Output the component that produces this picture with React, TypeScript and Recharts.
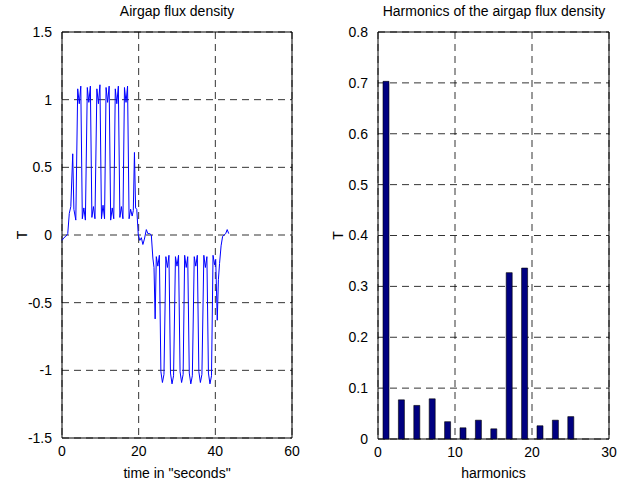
import { LineChart, Line, BarChart, Bar, XAxis, YAxis, CartesianGrid, ReferenceArea } from 'recharts';

const timeSeconds = [
  0, 0.5, 1.0, 1.5, 1.9, 2.3, 2.8, 3.1, 3.6,
  4.1, 4.5, 4.9, 5.3, 5.7, 6.1,
  6.6, 7.0, 7.4, 7.8, 8.2, 8.6,
  9.1, 9.5, 9.9, 10.3, 10.7, 11.1,
  11.5, 11.9, 12.3, 12.7, 13.1, 13.5,
  13.9, 14.3, 14.7, 15.1, 15.5, 15.9,
  16.3, 16.7, 17.1, 17.5, 17.9, 18.3,
  18.6, 18.9, 19.2, 19.5, 19.9, 20.3, 20.7, 21.1, 21.5, 22.0, 22.4, 22.9, 23.3,
  23.7, 24.0, 24.3,
  24.6, 25.0, 25.4, 25.8, 26.2, 26.6,
  27.1, 27.5, 27.9, 28.3, 28.7, 29.1,
  29.6, 30.0, 30.4, 30.8, 31.2, 31.6,
  32.0, 32.4, 32.8, 33.2, 33.6, 34.0,
  34.5, 34.9, 35.3, 35.7, 36.1, 36.5,
  37.0, 37.4, 37.8, 38.2, 38.6, 39.0,
  39.4, 39.8, 40.1, 40.5, 40.8, 41.1, 41.5, 41.9, 42.3, 42.7, 43.1, 43.5,
];

const fluxDensity = [
  -0.04, -0.02, -0.01, 0.01, 0.16, 0.21, 0.6, 0.19, 0.11,
  1.08, 0.97, 1.1, 0.12, 0.2, 0.11,
  1.09, 0.98, 1.1, 0.13, 0.21, 0.12,
  1.08, 0.97, 1.11, 0.12, 0.22, 0.12,
  1.09, 0.98, 1.1, 0.11, 0.2, 0.12,
  1.08, 0.97, 1.1, 0.13, 0.21, 0.12,
  1.09, 0.98, 1.1, 0.12, 0.19, 0.14,
  0.18, 0.61, 0.2, 0.19, 0.0, -0.04, -0.02, -0.07, -0.03, 0.04, 0.01, 0.01, 0.0,
  -0.17, -0.24, -0.62,
  -0.16, -0.23, -0.15, -1.01, -1.09, -1.03,
  -0.16, -0.24, -0.15, -1.02, -1.1, -1.04,
  -0.16, -0.23, -0.15, -1.01, -1.09, -1.03,
  -0.15, -0.24, -0.16, -1.02, -1.1, -1.04,
  -0.16, -0.23, -0.15, -1.01, -1.09, -1.03,
  -0.15, -0.24, -0.16, -1.02, -1.1, -1.04,
  -0.15, -0.22, -0.18, -0.63, -0.33, -0.21, -0.08, -0.01, 0.0, 0.01, 0.04, 0.01,
];

const harmonicOrder = [1, 3, 5, 7, 9, 11, 13, 15, 17, 19, 21, 23, 25];
const harmonicAmplitude = [0.703, 0.077, 0.066, 0.079, 0.034, 0.022, 0.037, 0.02, 0.327, 0.336, 0.026, 0.037, 0.044];

const timeTicks = [0, 20, 40, 60];
const fluxTicks = [-1.5, -1, -0.5, 0, 0.5, 1, 1.5];
const harmonicTicks = [0, 10, 20, 30];
const amplitudeTicks = [0, 0.1, 0.2, 0.3, 0.4, 0.5, 0.6, 0.7, 0.8];

const fluxData = timeSeconds.map((t, i) => ({ t, b: fluxDensity[i] }));
const harmonicData = harmonicOrder.map((h, i) => ({ h, amp: harmonicAmplitude[i] }));

const font = '"Liberation Sans", Arial, Helvetica, sans-serif';
const tickStyle = { fill: '#000', fontSize: 14, fontFamily: font };
const labelStyle = { fill: '#000', fontSize: 14, fontFamily: font, textAnchor: 'middle' as const };

function Title({ text, center }: { text: string; center: number }) {
  return (
    <div
      style={{
        position: 'absolute',
        top: 3,
        left: center - 150,
        width: 300,
        textAlign: 'center',
        fontFamily: font,
        fontSize: 14,
        lineHeight: '17px',
        color: '#000',
      }}
    >
      {text}
    </div>
  );
}

export default function App() {
  return (
    <div style={{ position: 'absolute', left: 0, top: 0, width: 622, height: 485, background: '#fff' }}>
      <Title text="Airgap flux density" center={177} />
      <Title text="Harmonics of the airgap flux density" center={494} />

      <div style={{ position: 'absolute', left: 0, top: 0 }}>
        <LineChart width={310} height={485} data={fluxData} margin={{ top: 32, right: 18, bottom: 0, left: 0 }}>
          <CartesianGrid strokeDasharray="7 5" stroke="#000" strokeOpacity={0.8} />
          <XAxis
            dataKey="t"
            type="number"
            domain={[0, 60]}
            ticks={timeTicks}
            height={47}
            axisLine={false}
            tickLine={false}
            tickMargin={2}
            tick={tickStyle}
            label={{ value: 'time in "seconds"', position: 'insideBottom', offset: 7, style: labelStyle }}
          />
          <YAxis
            type="number"
            domain={[-1.5, 1.5]}
            ticks={fluxTicks}
            width={62}
            axisLine={false}
            tickLine={false}
            tickMargin={4}
            tick={tickStyle}
            label={{ value: 'T', angle: -90, position: 'insideLeft', offset: 22, style: labelStyle }}
          />
          <Line type="linear" dataKey="b" stroke="#0000ff" strokeWidth={1} dot={false} isAnimationActive={false} />
          <ReferenceArea x1={0} x2={60} y1={-1.5} y2={1.5} fill="none" stroke="#000" strokeWidth={1} />
        </LineChart>
      </div>

      <div style={{ position: 'absolute', left: 310, top: 0 }}>
        <BarChart width={312} height={485} data={harmonicData} margin={{ top: 32, right: 13, bottom: 0, left: 0 }}>
          <CartesianGrid strokeDasharray="7 5" stroke="#000" strokeOpacity={0.8} />
          <XAxis
            dataKey="h"
            type="number"
            domain={[0, 30]}
            ticks={harmonicTicks}
            height={46}
            axisLine={false}
            tickLine={false}
            tickMargin={2}
            tick={tickStyle}
            label={{ value: 'harmonics', position: 'insideBottom', offset: 7, style: labelStyle }}
          />
          <YAxis
            type="number"
            domain={[0, 0.8]}
            ticks={amplitudeTicks}
            width={68}
            axisLine={false}
            tickLine={false}
            tickMargin={4}
            tick={tickStyle}
            label={{ value: 'T', angle: -90, position: 'insideLeft', offset: 28, style: labelStyle }}
          />
          <Bar dataKey="amp" fill="#000080" stroke="#000" strokeWidth={0.6} barSize={6} isAnimationActive={false} />
          <ReferenceArea x1={0} x2={30} y1={0} y2={0.8} fill="none" stroke="#000" strokeWidth={1} />
        </BarChart>
      </div>
    </div>
  );
}
